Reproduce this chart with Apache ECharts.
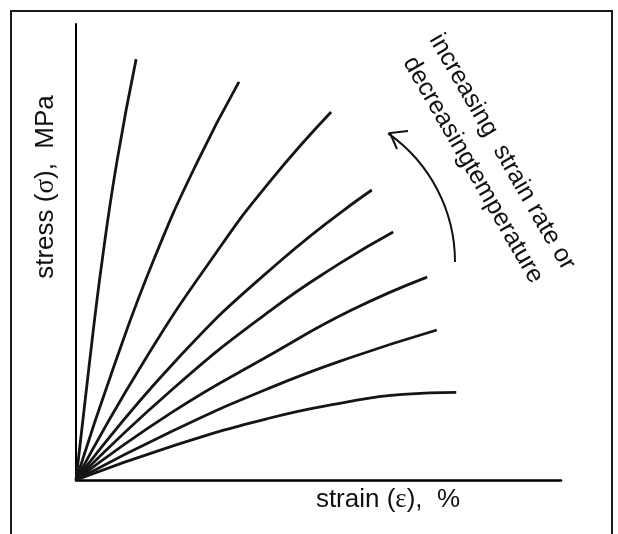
<!DOCTYPE html>
<html>
<head>
<meta charset="utf-8">
<script src="https://cdn.jsdelivr.net/npm/echarts@6/dist/echarts.min.js"></script>
<style>
html,body{margin:0;padding:0;background:#fff;}
#chart{width:618px;height:534px;}
</style>
</head>
<body>
<div id="chart"></div>
<script>
// Schematic stress-strain curves (arbitrary units, 0-100 on both axes)
const curve1 = [[0,0],[2.7,25],[5.4,48.2],[8.5,70.2],[12.4,92.3]];
const curve2 = [[0,0],[8,25.5],[16.3,49],[24.9,69.5],[33.6,87.3]];
const curve3 = [[0,0],[14,26],[29,50],[40,65.5],[52.6,80.7]];
const curve4 = [[0,0],[20,25.5],[42.3,48.2],[61,63.6]];
const curve5 = [[0,0],[20,20],[40,37.1],[54.4,47.5],[65.4,54.4]];
const curve6 = [[0,0],[20,15],[40,27.4],[56.5,37.1],[72.4,44.5]];
const curve7 = [[0,0],[20,10.8],[40,20.2],[56.5,26.8],[74.4,32.9]];
const curve8 = [[0,0],[20,7.5],[40,13.6],[53.8,16.7],[67.4,18.8],[78.4,19.2]];
const curves = [curve1,curve2,curve3,curve4,curve5,curve6,curve7,curve8];

const xTitle = ['strain (', 'ε', '),  %'];
const yTitle = ['stress (', 'σ', '),  MPa'];
const noteLine1 = 'increasing  strain rate or';
const noteLine2 = 'decreasingtemperature';

const chart = echarts.init(document.getElementById('chart'), null, {renderer:'canvas'});
const deg = Math.PI/180;
const sans = '"Liberation Sans", Arial, sans-serif';
const serif = '"Liberation Serif", "Times New Roman", serif';
function richTitle(parts) {
  return parts[0] + '{g|' + parts[1] + '}' + parts[2];
}
const richStyle = {g: {fontFamily: serif, fontSize: 27, fill: '#111'}};
const option = {
  animation: false,
  backgroundColor: '#fff',
  grid: {left: 76, right: 57, top: 24, bottom: 54},
  xAxis: {
    type: 'value', min: 0, max: 100,
    axisLine: {show: true, lineStyle: {color: '#000', width: 2.5}},
    axisTick: {show: false}, axisLabel: {show: false}, splitLine: {show: false}
  },
  yAxis: {
    type: 'value', min: 0, max: 100,
    axisLine: {show: true, lineStyle: {color: '#000', width: 2}},
    axisTick: {show: false}, axisLabel: {show: false}, splitLine: {show: false}
  },
  series: curves.map(c => ({
    type: 'line', data: c, smooth: 0.5, symbol: 'none',
    lineStyle: {color: '#151515', width: 2.8}
  })),
  graphic: [
    {type: 'polyline', shape: {points: [[11,540],[11,11],[612,11],[612,540]]},
     style: {stroke: '#1a1a1a', lineWidth: 2, fill: null}},
    {type: 'text', x: 388, y: 500, style: {
      text: richTitle(xTitle), font: '26px ' + sans, fill: '#111', rich: richStyle,
      align: 'center', verticalAlign: 'middle'}},
    {type: 'text', x: 46, y: 187, rotation: 90*deg, style: {
      text: richTitle(yTitle), font: '26px ' + sans, fill: '#111', rich: richStyle,
      align: 'center', verticalAlign: 'middle'}},
    {type: 'text', x: 502, y: 152, rotation: -60*deg, style: {
      text: noteLine1, font: '25px ' + sans, fill: '#111',
      align: 'center', verticalAlign: 'middle'}},
    {type: 'text', x: 473, y: 170, rotation: -60*deg, style: {
      text: noteLine2, font: '25px ' + sans, fill: '#111',
      align: 'center', verticalAlign: 'middle'}},
    {type: 'arc', shape: {cx: 298, cy: 262, r: 157, startAngle: -55*deg, endAngle: 0, clockwise: true},
     style: {stroke: '#111', lineWidth: 2, fill: null}},
    {type: 'polyline', shape: {points: [[408,131],[390,133],[397,149]]},
     style: {stroke: '#111', lineWidth: 2, fill: null}}
  ]
};
chart.setOption(option);
</script>
</body>
</html>
